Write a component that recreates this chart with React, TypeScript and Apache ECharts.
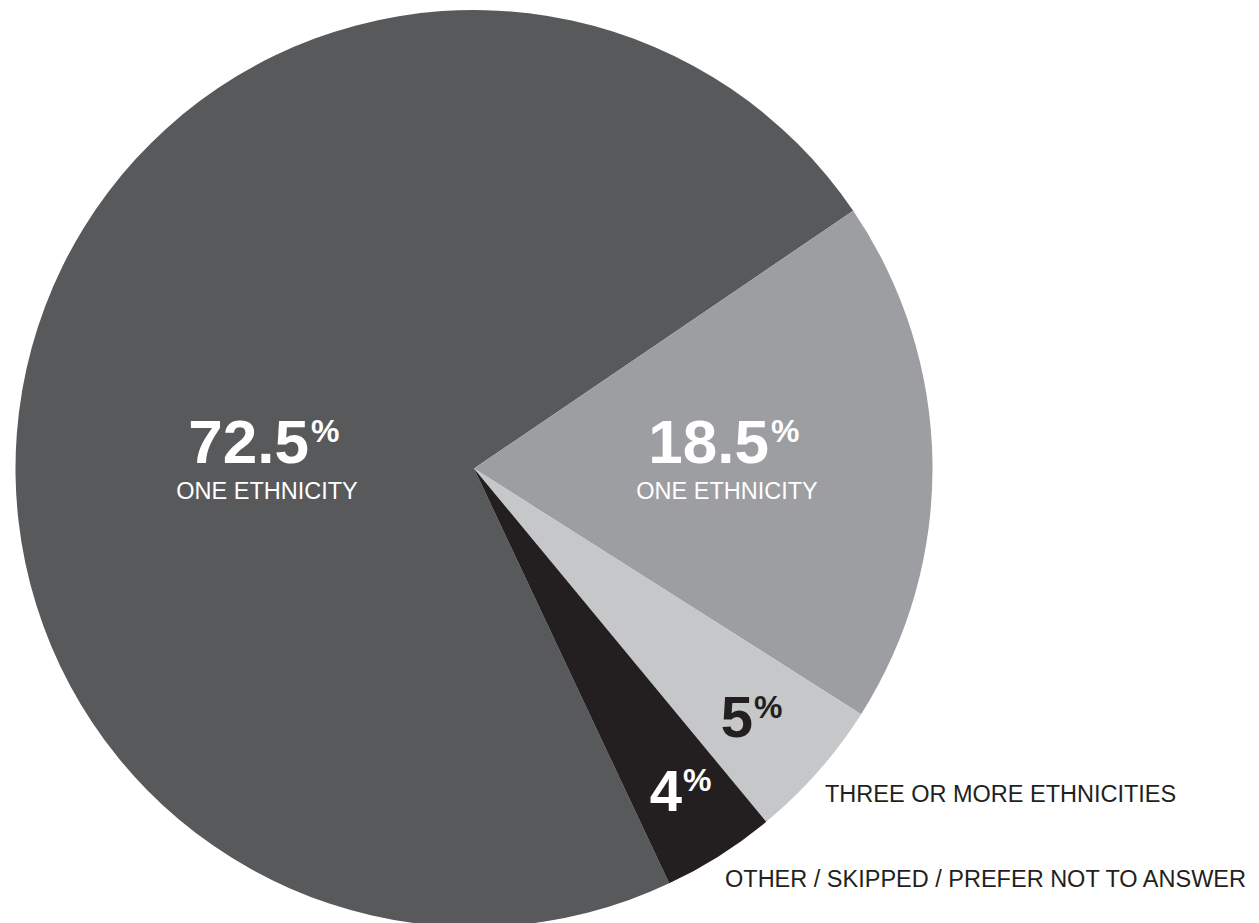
import React, { useEffect, useRef } from "react";
import * as echarts from "echarts";

const categories = [
  "ONE ETHNICITY",
  "ONE ETHNICITY ",
  "THREE OR MORE ETHNICITIES",
  "OTHER / SKIPPED / PREFER NOT TO ANSWER",
];
const values = [72.5, 18.5, 5, 4];
const valueLabels = ["72.5", "18.5", "5", "4"];
const colors = ["#58595b", "#9d9ea1", "#c6c7c9", "#231f20"];

const FONT = "'Liberation Sans', Arial, sans-serif";
const DARK = "#231f20";

export default function App() {
  const ref = useRef<HTMLDivElement>(null);
  useEffect(() => {
    if (!ref.current) return;
    const chart = echarts.init(ref.current, null, { renderer: "svg" });

    const num = (text: string, x: number, y: number, size: number, fill: string) => ({
      type: "text",
      x,
      y,
      z: 100,
      silent: true,
      style: {
        text,
        fill,
        fontFamily: FONT,
        fontWeight: "bold",
        fontSize: size,
        align: "right",
        verticalAlign: "middle",
      },
    });
    const pct = (x: number, y: number, fill: string) => ({
      type: "text",
      x,
      y,
      z: 100,
      silent: true,
      style: {
        text: "%",
        fill,
        fontFamily: FONT,
        fontWeight: "bold",
        fontSize: 32,
        align: "left",
        verticalAlign: "middle",
      },
    });
    const cap = (text: string, x: number, y: number, fill: string, align: string) => ({
      type: "text",
      x,
      y,
      z: 100,
      silent: true,
      style: {
        text,
        fill,
        fontFamily: FONT,
        fontSize: 23.5,
        align,
        verticalAlign: "middle",
      },
    });

    chart.setOption({
      animation: false,
      backgroundColor: "#ffffff",
      series: [
        {
          type: "pie",
          center: [474, 468.5],
          radius: 458.5,
          startAngle: -64.8,
          clockwise: true,
          silent: true,
          z: 2,
          label: { show: false },
          labelLine: { show: false },
          emphasis: { disabled: true },
          itemStyle: { borderWidth: 0 },
          data: values.map((v, i) => ({
            name: categories[i],
            value: v,
            itemStyle: { color: colors[i] },
          })),
        },
      ],
      graphic: {
        elements: [
          num(valueLabels[0], 309, 441, 62, "#ffffff"),
          pct(311, 431, "#ffffff"),
          cap(categories[0], 267, 491, "#ffffff", "center"),
          num(valueLabels[1], 769, 441, 62, "#ffffff"),
          pct(771, 431, "#ffffff"),
          cap(categories[1].trim(), 727, 491, "#ffffff", "center"),
          num(valueLabels[2], 753, 716, 58, DARK),
          pct(754, 707, DARK),
          num(valueLabels[3], 682, 790, 58, "#ffffff"),
          pct(683, 780, "#ffffff"),
          cap(categories[2], 825, 794, DARK, "left"),
          cap(categories[3], 725, 879, DARK, "left"),
        ],
      },
    });
    return () => chart.dispose();
  }, []);
  return (
    <div
      ref={ref}
      style={{ position: "fixed", left: 0, top: 0, width: 1259, height: 923 }}
    />
  );
}
